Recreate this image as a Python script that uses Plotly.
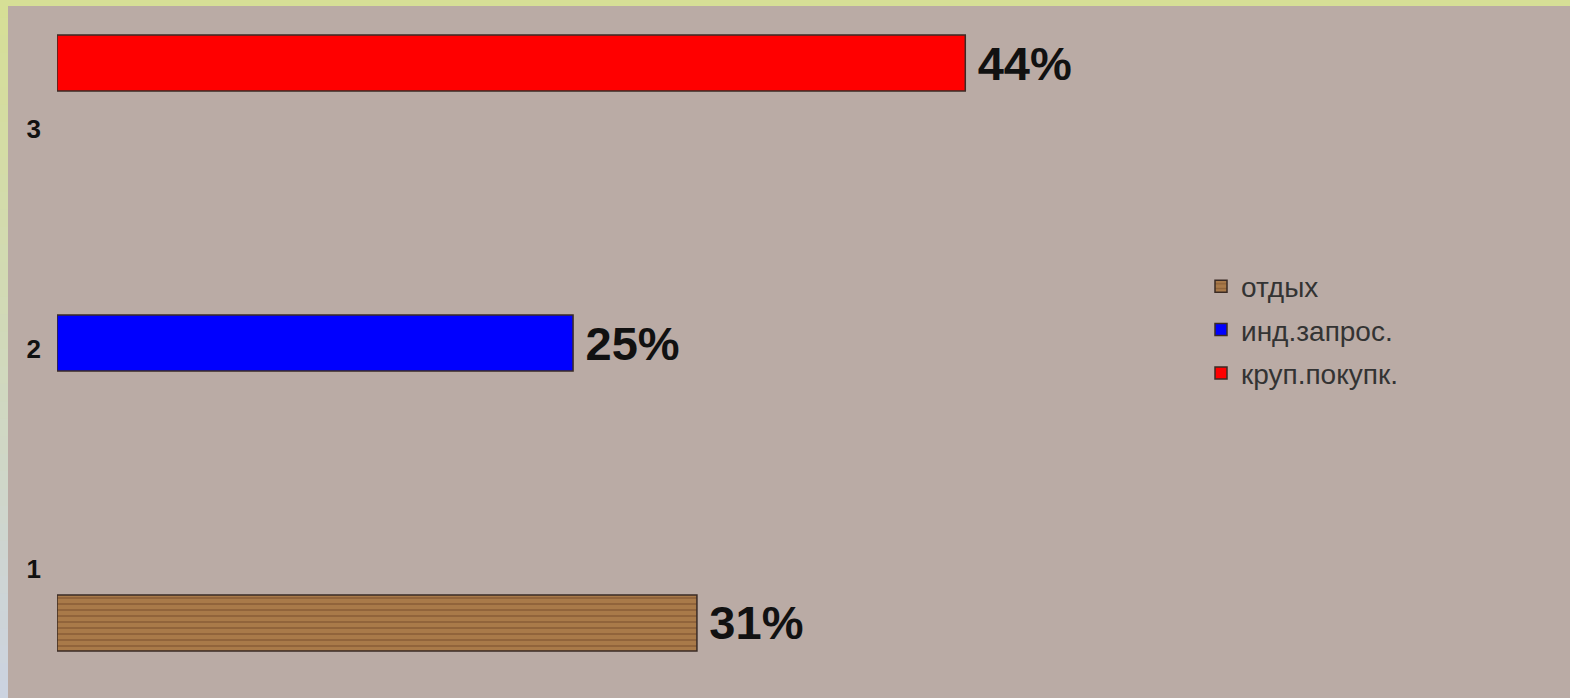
import plotly.graph_objects as go

categories = ["1", "2", "3"]
series_names = ["отдых", "инд.запрос.", "круп.покупк."]
otdykh = [31, None, None]
ind_zapros = [None, 25, None]
krup_pokupk = [None, None, 44]
series_values = [otdykh, ind_zapros, krup_pokupk]

BG = "#BAABA5"
fig = go.Figure()

styles = [
    dict(color="#A57443", pattern=dict(shape="-", fgcolor="#74492A", bgcolor="#A97A49", size=6, solidity=0.3)),
    dict(color="#0000FF"),
    dict(color="#FF0000"),
]

for name, vals, st in zip(series_names, series_values, styles):
    marker = dict(color=st["color"], line=dict(color="#3a2b25", width=1.5))
    if "pattern" in st:
        marker["pattern"] = st["pattern"]
    fig.add_trace(go.Bar(
        y=categories, x=vals, name=name, orientation="h", legendgroup=name,
        marker=marker,
        texttemplate="\u2009%{x}%", textposition="outside",
        textfont=dict(family="Liberation Sans, Arial", size=47, color="#111111", weight="bold"),
        constraintext="none", cliponaxis=False,
    ))

W = 1570 - 57 - 68
H = 698 - 13 - 25

shapes = []
shapes.append(dict(type="rect", xref="paper", yref="paper", xsizemode="pixel", ysizemode="pixel",
                   xanchor=0, yanchor=1, x0=-57, x1=W + 68, y0=13, y1=7,
                   fillcolor="#D6DF96", line=dict(width=0), layer="above"))
top_c = (0xD6, 0xDF, 0x96)
bot_c = (0xCC, 0xD3, 0xE0)
n = 40
total = 698
for i in range(n):
    t = i / (n - 1)
    c = tuple(int(round(top_c[k] + (bot_c[k] - top_c[k]) * t)) for k in range(3))
    ya = 13 - total * i / n
    yb = 13 - total * (i + 1) / n
    shapes.append(dict(type="rect", xref="paper", yref="paper", xsizemode="pixel", ysizemode="pixel",
                       xanchor=0, yanchor=1, x0=-57, x1=-49, y0=ya, y1=yb - 1,
                       fillcolor="rgb(%d,%d,%d)" % c, line=dict(width=0), layer="above"))

fig.update_layout(
    width=1570, height=698,
    margin=dict(l=57, r=68, t=13, b=25),
    paper_bgcolor=BG, plot_bgcolor=BG,
    barmode="group", bargap=0.182, bargroupgap=0.067,
    showlegend=True,
    legend=dict(x=(1201 - 57) / W, xanchor="left", y=(685 - 342) / H, yanchor="middle",
                bgcolor="rgba(0,0,0,0)", traceorder="grouped", tracegroupgap=4,
                font=dict(family="Liberation Sans, Arial", size=28, color="#333333"),
                itemwidth=30),
    xaxis=dict(range=[0, 70], visible=False, showgrid=False, zeroline=False),
    yaxis=dict(type="category", range=[-0.5, 2.5], showgrid=False, zeroline=False, showline=False, ticks="",
               ticklabelstandoff=15, ticklabelshift=6,
               tickfont=dict(family="Liberation Sans, Arial", size=26, color="#111111", weight="bold")),
    shapes=shapes,
)

fig.write_html("out.html")
